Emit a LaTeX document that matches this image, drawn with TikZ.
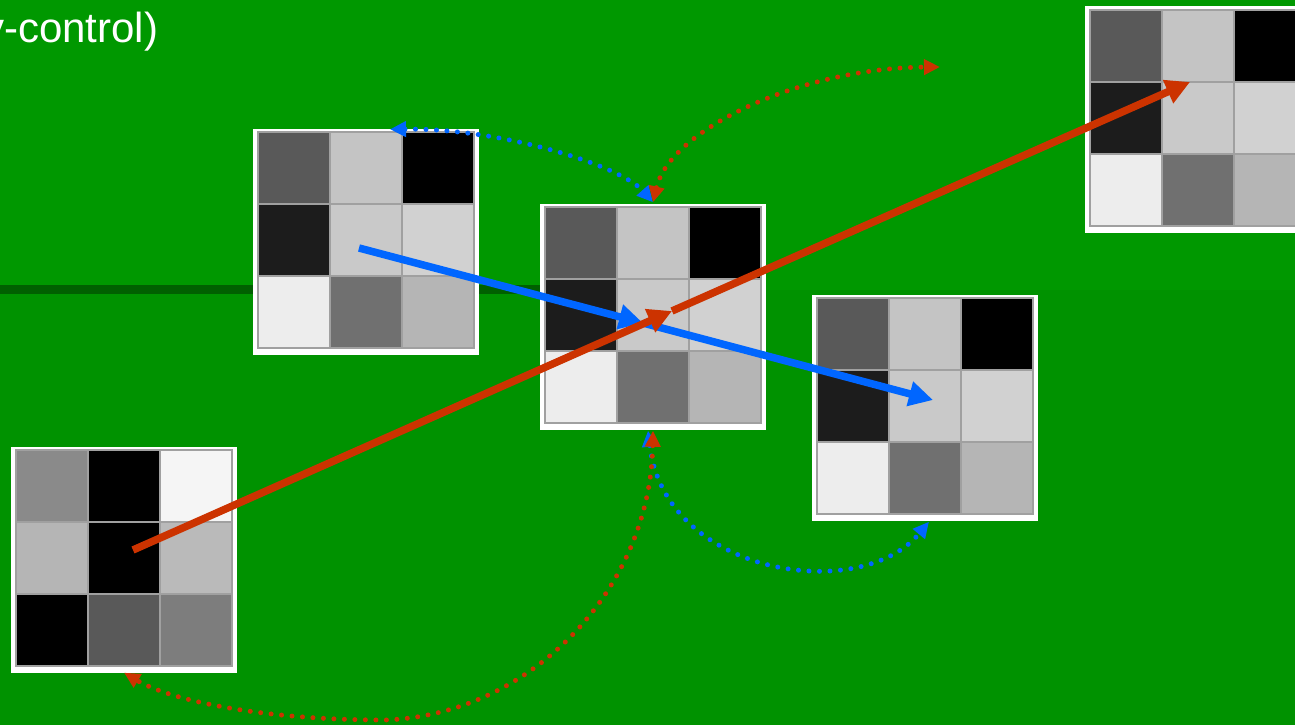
\documentclass[tikz,border=0pt]{standalone}
\usepackage{fontspec}
\setmainfont{Liberation Sans}
\usetikzlibrary{arrows.meta,calc}
\definecolor{bgtop}{RGB}{0,152,0}
\definecolor{bgbot}{RGB}{0,146,0}
\definecolor{band}{RGB}{0,96,0}
\definecolor{redarr}{RGB}{204,51,0}
\definecolor{bluearr}{RGB}{0,102,255}
\definecolor{cellline}{RGB}{160,160,160}
\tikzset{
  gridframe/.style={fill=white, minimum width=226pt, minimum height=226pt, inner sep=0pt, draw=none},
  cellbox/.style={draw=cellline, line width=1.3pt},
  bigarrow/.style={line width=7.5pt, -{Triangle[length=24pt,width=24pt]}},
  dotarrow/.style={line width=5pt, line cap=round, dash pattern=on 0pt off 10.5pt,
    {Triangle[length=16pt,width=15pt]}-{Triangle[length=16pt,width=15pt]}},
}
\newcommand\cellgrid[4]{%
  \node[gridframe] (#1) at (#2,#3+1.5) {};
  \foreach \c [count=\i from 0] in {#4}{%
    \pgfmathtruncatemacro\gr{int(\i/3)}%
    \pgfmathtruncatemacro\gc{\i-3*\gr}%
    \draw[cellbox, fill=\c] ({#2-108+72*\gc},{#3-108+72*\gr}) rectangle ++(72,72);
  }%
}
\begin{document}
\begin{tikzpicture}[x=1pt,y=-1pt]
\useasboundingbox (0,0) rectangle (1295,725);
\clip (0,0) rectangle (1295,725);
% background
\fill[bgtop] (0,0) rectangle (1295,290);
\fill[bgbot] (0,290) rectangle (1295,725);
\fill[band] (0,285) rectangle (545,294);
% title fragment
\node[text=white, font=\fontsize{42}{48}\selectfont, anchor=base east, inner sep=0pt] (title) at (158.5,43) {y-control)};
% grids
\cellgrid{A}{366}{240}{black!65,black!23,black!100,black!89,black!21,black!18,black!7,black!56,black!29}
\cellgrid{B}{653}{315}{black!65,black!23,black!100,black!89,black!21,black!18,black!7,black!56,black!29}
\cellgrid{C}{925}{406}{black!65,black!23,black!100,black!89,black!21,black!18,black!7,black!56,black!29}
\cellgrid{D}{124}{558}{black!46,black!100,black!4,black!29,black!100,black!27,black!100,black!65,black!51}
\cellgrid{E}{1198}{118}{black!65,black!23,black!100,black!89,black!21,black!18,black!7,black!56,black!29}
% coordinates
\coordinate (b0) at (359,248);
\coordinate (bm) at (643,323);
\coordinate (b1) at (933,400);
\coordinate (r0) at (133,550);
\coordinate (rm) at (672,311);
\coordinate (r1) at (1190,82);
\coordinate (Atop) at ($(A.north)+(24,1)$);
\coordinate (Rend) at (940,67);
\coordinate (Bn) at ($(B.north)+(0,-1)$);
\coordinate (Bsb) at ($(B.south)+(-5,1)$);
\coordinate (Bsr) at ($(B.south)+(0,1)$);
\coordinate (Cs) at ($(C.south)+(4,1)$);
% dotted curves
\draw[dotarrow, bluearr] (Atop) .. controls (500,128) and (620,165) .. (Bn);
\draw[dotarrow, bluearr] (Bsb) .. controls (665,575) and (860,605) .. (Cs);
\draw[dotarrow, redarr] (Bn) .. controls (670,130) and (800,68) .. (Rend);
\draw[dotarrow, redarr]
  (Bsr) .. controls (650,590) and (530,715) .. (385,720) .. controls (260,720) and (170,700) .. (D.south);
% straight arrows
\draw[bigarrow, bluearr] (bm) -- (b1);
\draw[bigarrow, bluearr] (b0) -- (bm);
\draw[bigarrow, redarr] (rm) -- (r1);
\draw[bigarrow, redarr] (r0) -- (rm);
\end{tikzpicture}
\end{document}
